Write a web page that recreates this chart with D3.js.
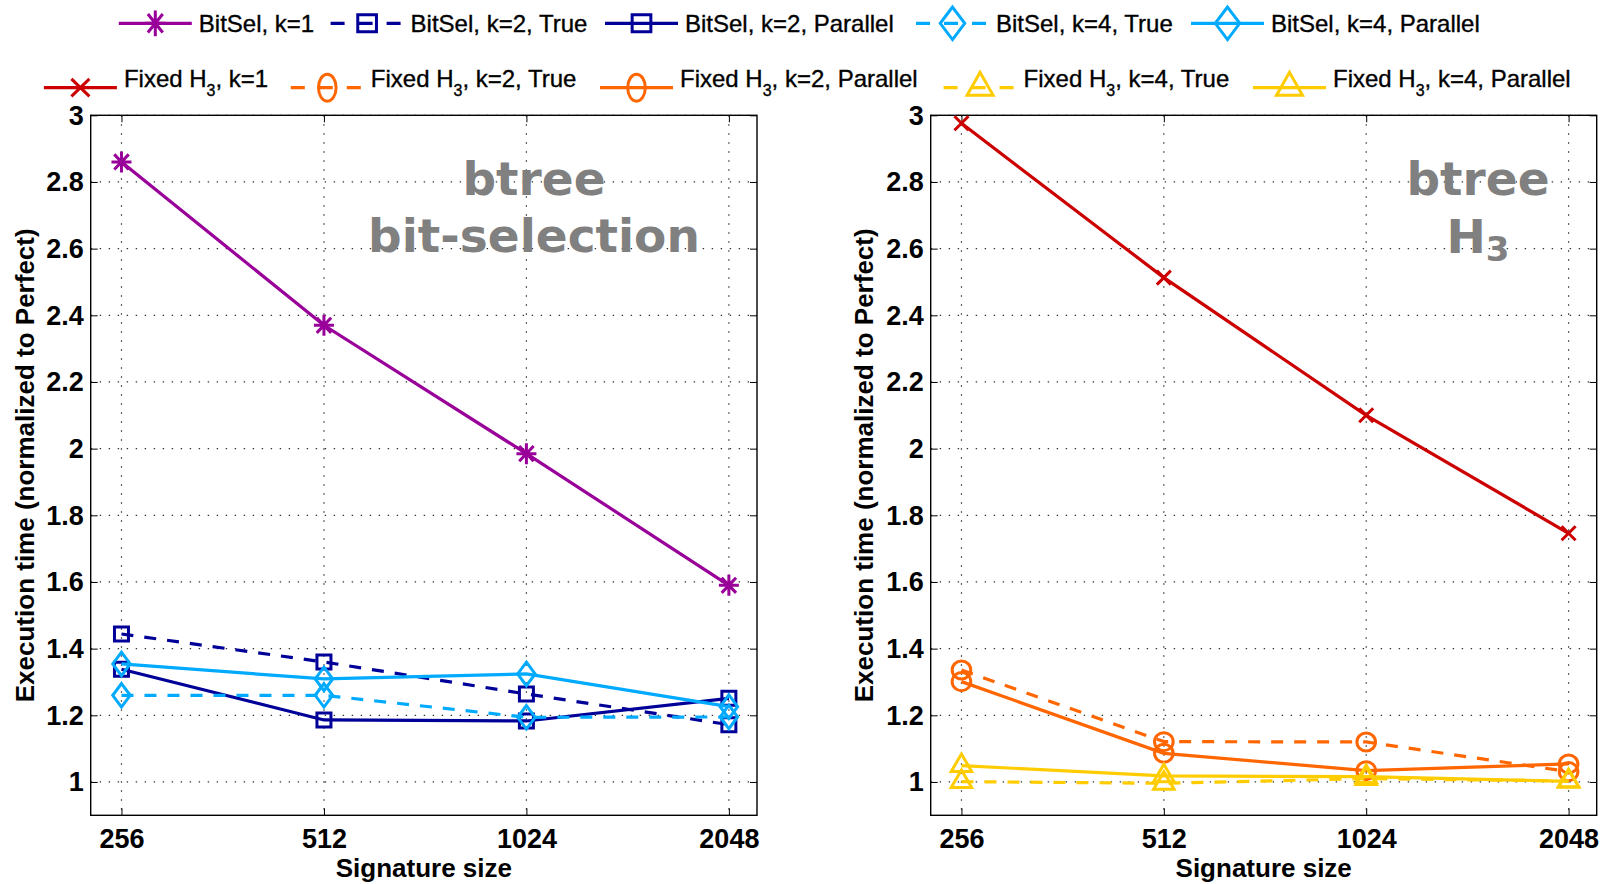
<!DOCTYPE html>
<html>
<head>
<meta charset="utf-8">
<script src="https://cdn.jsdelivr.net/npm/d3@7"></script>
<style>
  body { margin: 0; background: #fff; }
  svg { display: block; }
  text { font-family: "Liberation Sans", Arial, Helvetica, sans-serif; }
</style>
</head>
<body>
<svg id="fig" width="1610" height="884"></svg>
<script>
// ---- data ----
const sigSizes = [256, 512, 1024, 2048];
const yTicks = [1, 1.2, 1.4, 1.6, 1.8, 2, 2.2, 2.4, 2.6, 2.8, 3];

// bit-selection hashing (left panel)
const bitSelK1     = [2.86, 2.37, 1.985, 1.59];
const bitSelK2True = [1.444, 1.36, 1.264, 1.172];
const bitSelK2Par  = [1.338, 1.186, 1.183, 1.251];
const bitSelK4True = [1.26, 1.26, 1.194, 1.195];
const bitSelK4Par  = [1.354, 1.309, 1.324, 1.226];

// fixed H3 hashing (right panel)
const h3K1     = [2.976, 2.513, 2.10, 1.746];
const h3K2True = [1.336, 1.121, 1.12, 1.031];
const h3K2Par  = [1.301, 1.086, 1.034, 1.054];
const h3K4True = [1.001, 0.996, 1.01, 1.003];
const h3K4Par  = [1.049, 1.018, 1.016, 1.002];

// legend label pieces: [before subscript, subscript, after subscript]
const bitSelLabels = [["BitSel, k=1"], ["BitSel, k=2, True"], ["BitSel, k=2, Parallel"],
                      ["BitSel, k=4, True"], ["BitSel, k=4, Parallel"]];
const h3Labels = [["Fixed H", "3", ", k=1"], ["Fixed H", "3", ", k=2, True"], ["Fixed H", "3", ", k=2, Parallel"],
                  ["Fixed H", "3", ", k=4, True"], ["Fixed H", "3", ", k=4, Parallel"]];

// ---- styling ----
const C = {
  purple: "#990099", navy: "#000099", sky: "#00AAFF",
  red: "#CC0000", orange: "#FF6600", gold: "#FFCC00"
};

const bitSelSeries = [
  { values: bitSelK1,     color: C.purple, dashed: false, marker: "star" },
  { values: bitSelK2True, color: C.navy,   dashed: true,  marker: "square" },
  { values: bitSelK2Par,  color: C.navy,   dashed: false, marker: "square" },
  { values: bitSelK4True, color: C.sky,    dashed: true,  marker: "diamond" },
  { values: bitSelK4Par,  color: C.sky,    dashed: false, marker: "diamond" }
];
const h3Series = [
  { values: h3K1,     color: C.red,    dashed: false, marker: "x" },
  { values: h3K2True, color: C.orange, dashed: true,  marker: "circle" },
  { values: h3K2Par,  color: C.orange, dashed: false, marker: "circle" },
  { values: h3K4True, color: C.gold,   dashed: true,  marker: "triangle" },
  { values: h3K4Par,  color: C.gold,   dashed: false, marker: "triangle" }
];

// marker sizes (path width/height) in the plots and in the legend
const plotMarker = {
  star: [20, 21], x: [14, 14], square: [14, 14],
  diamond: [17.5, 23.5], circle: [18.6, 18], triangle: [20.5, 17.5]
};
const legendMarker = {
  star: [20.7, 25.7], x: [18, 17.5], square: [18.7, 17],
  diamond: [24.5, 32.5], circle: [17.6, 27], triangle: [26, 23]
};

function markerPath(type, cx, cy, w, h) {
  const hw = w / 2, hh = h / 2;
  switch (type) {
    case "star": {
      const a = 0.72;
      return `M${cx},${cy - hh}V${cy + hh}M${cx - hw},${cy}H${cx + hw}` +
             `M${cx - hw * a},${cy - hh * a}L${cx + hw * a},${cy + hh * a}` +
             `M${cx - hw * a},${cy + hh * a}L${cx + hw * a},${cy - hh * a}`;
    }
    case "x":
      return `M${cx - hw},${cy - hh}L${cx + hw},${cy + hh}M${cx - hw},${cy + hh}L${cx + hw},${cy - hh}`;
    case "square":
      return `M${cx - hw},${cy - hh}H${cx + hw}V${cy + hh}H${cx - hw}Z`;
    case "diamond":
      return `M${cx},${cy - hh}L${cx + hw},${cy}L${cx},${cy + hh}L${cx - hw},${cy}Z`;
    case "circle":
      return `M${cx - hw},${cy}A${hw},${hh} 0 1,0 ${cx + hw},${cy}A${hw},${hh} 0 1,0 ${cx - hw},${cy}Z`;
    case "triangle":
      return `M${cx},${cy - h * 2 / 3}L${cx + hw},${cy + h / 3}L${cx - hw},${cy + h / 3}Z`;
  }
}

const svg = d3.select("#fig");
const fontTick = 27, fontLabel = 26;

// ---- panels ----
const plotTop = 115.3, plotBottom = 815.3;
const y = d3.scaleLinear().domain([0.9, 3]).range([plotBottom, plotTop]);

const panels = [
  { x0: 90.7,  x1: 757.0,  series: bitSelSeries, title: ["btree", "bit-selection"], titleX: 534, ylabX: 33.5 },
  { x0: 930.7, x1: 1596.7, series: h3Series,     title: ["btree", "H3"],            titleX: 1478, ylabX: 873 }
];

panels.forEach(p => {
  const x = d3.scaleLog().base(2).domain([230.4, 2255]).range([p.x0, p.x1]);
  const g = svg.append("g");

  // dotted grid
  g.append("g").selectAll("line").data(yTicks).join("line")
    .attr("x1", p.x0).attr("x2", p.x1)
    .attr("y1", d => y(d)).attr("y2", d => y(d))
    .attr("stroke", "#333").attr("stroke-width", 1.2)
    .attr("stroke-dasharray", "1.4,7.6");
  g.append("g").selectAll("line").data(sigSizes).join("line")
    .attr("x1", d => x(d)).attr("x2", d => x(d))
    .attr("y1", plotTop).attr("y2", plotBottom)
    .attr("stroke", "#333").attr("stroke-width", 1.2)
    .attr("stroke-dasharray", "1.4,7.6");

  // title inside the axes
  const tt = g.append("text")
    .attr("text-anchor", "middle")
    .attr("fill", "#808080")
    .style("font-family", '"DejaVu Sans", Verdana, sans-serif')
    .style("font-weight", "bold")
    .style("font-size", "47px");
  tt.append("tspan").attr("x", p.titleX).attr("y", 195).text(p.title[0]);
  if (p.title[1] === "H3") {
    const t2 = tt.append("tspan").attr("x", p.titleX).attr("y", 253.3);
    t2.text("H");
    tt.append("tspan").attr("dy", 8).style("font-size", "34px").text("3");
  } else {
    tt.append("tspan").attr("x", p.titleX).attr("y", 251.7).text(p.title[1]);
  }

  // axes (ticks point inward, box on)
  const left = g.append("g").attr("transform", `translate(${p.x0},0)`)
    .call(d3.axisLeft(y).tickValues(yTicks).tickFormat(d3.format("~g"))
      .tickSizeInner(-7).tickSizeOuter(0).tickPadding(7));
  left.selectAll("text").style("font-size", fontTick + "px").style("font-weight", "bold")
    .attr("fill", "#000").attr("dy", "0.33em");
  g.append("g").attr("transform", `translate(${p.x1},0)`)
    .call(d3.axisRight(y).tickValues(yTicks).tickFormat("").tickSizeInner(-7).tickSizeOuter(0));

  const bottom = g.append("g").attr("transform", `translate(0,${plotBottom})`)
    .call(d3.axisBottom(x).tickValues(sigSizes).tickFormat(d => String(d))
      .tickSizeInner(-7).tickSizeOuter(0));
  bottom.selectAll("text").style("font-size", fontTick + "px").style("font-weight", "bold")
    .attr("fill", "#000").attr("y", 33).attr("dy", 0);
  g.append("g").attr("transform", `translate(0,${plotTop})`)
    .call(d3.axisTop(x).tickValues(sigSizes).tickFormat("").tickSizeInner(-7).tickSizeOuter(0));

  g.selectAll(".domain").remove();
  g.selectAll(".tick line").attr("stroke", "#000").attr("stroke-width", 1);
  g.append("rect")
    .attr("x", p.x0).attr("y", plotTop)
    .attr("width", p.x1 - p.x0).attr("height", plotBottom - plotTop)
    .attr("fill", "none").attr("stroke", "#000").attr("stroke-width", 1.4);

  // axis labels
  g.append("text")
    .attr("x", (p.x0 + p.x1) / 2).attr("y", 876.7)
    .attr("text-anchor", "middle")
    .style("font-size", fontLabel + "px").style("font-weight", "bold")
    .text("Signature size");
  g.append("text")
    .attr("transform", `translate(${p.ylabX},${(plotTop + plotBottom) / 2}) rotate(-90)`)
    .attr("text-anchor", "middle")
    .style("font-size", fontLabel + "px").style("font-weight", "bold")
    .text("Execution time (normalized to Perfect)");

  // series
  const line = d3.line().x((d, i) => x(sigSizes[i])).y(d => y(d));
  p.series.forEach(s => {
    const sg = g.append("g");
    sg.append("path")
      .attr("d", line(s.values))
      .attr("fill", "none")
      .attr("stroke", s.color).attr("stroke-width", 3.2)
      .attr("stroke-dasharray", s.dashed ? "12,11" : null);
    const [mw, mh] = plotMarker[s.marker];
    sg.selectAll("path.m").data(s.values).join("path")
      .attr("class", "m")
      .attr("d", (d, i) => markerPath(s.marker, x(sigSizes[i]), y(d), mw, mh))
      .attr("fill", "none")
      .attr("stroke", s.color).attr("stroke-width", 3)
      .attr("stroke-linejoin", "miter");
  });
});

// ---- legend (two rows above the panels) ----
const legendRows = [
  { series: bitSelSeries, labels: bitSelLabels, xs: [118.8, 330.6, 605, 916, 1191], lineY: 23.3, textY: 31.7 },
  { series: h3Series,     labels: h3Labels,     xs: [43.9, 290.8, 600, 943.6, 1253], lineY: 87.7, textY: 87.3 }
];
const sampleLen = 73;

legendRows.forEach(row => {
  row.series.forEach((s, i) => {
    const lx = row.xs[i];
    const lg = svg.append("g");
    lg.append("line")
      .attr("x1", lx).attr("x2", lx + sampleLen)
      .attr("y1", row.lineY).attr("y2", row.lineY)
      .attr("stroke", s.color).attr("stroke-width", 3.2)
      .attr("stroke-dasharray", s.dashed ? "14,14" : null);
    const [mw, mh] = legendMarker[s.marker];
    lg.append("path")
      .attr("d", markerPath(s.marker, lx + sampleLen / 2, row.lineY, mw, mh))
      .attr("fill", "none").attr("stroke", s.color).attr("stroke-width", 3);
    const parts = row.labels[i];
    const t = lg.append("text")
      .attr("x", lx + 80).attr("y", row.textY)
      .style("font-size", "24px").attr("fill", "#000")
      .attr("stroke", "#000").attr("stroke-width", 0.35);
    t.append("tspan").text(parts[0]);
    if (parts.length > 1) {
      t.append("tspan").attr("dy", 9).style("font-size", "16px").text(parts[1]);
      t.append("tspan").attr("dy", -9).text(parts[2]);
    }
  });
});
</script>
</body>
</html>
